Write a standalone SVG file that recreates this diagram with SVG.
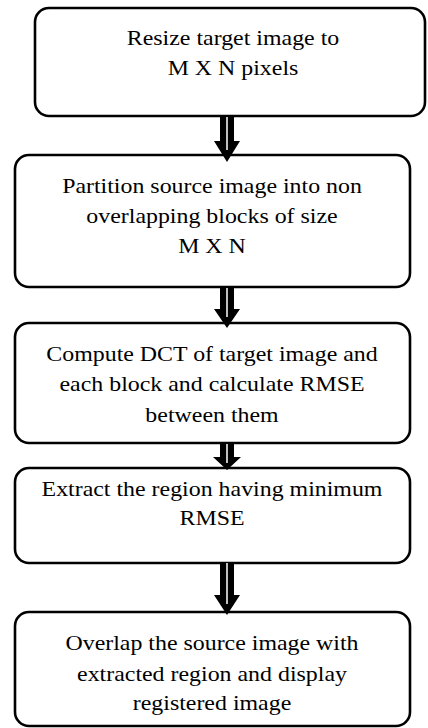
<svg xmlns="http://www.w3.org/2000/svg" width="428" height="728" viewBox="0 0 428 728">
<style>
.box{fill:#fff;stroke:#000;stroke-width:2.6}
.arr{fill:#000}
.gap{stroke:#fff;stroke-width:1.5}
</style>
<rect width="428" height="728" fill="#fff"/>
<g font-family="Liberation Serif, Times New Roman, serif" font-size="22" fill="#000" text-anchor="middle">
<g id="node1">
<rect class="box" x="35" y="8" width="390" height="108" rx="14"/>
<text transform="translate(233,45) scale(1.086,1)">Resize target image to</text>
<text transform="translate(233,75) scale(1.086,1)">M X N pixels</text>
</g>
<g id="node2">
<rect class="box" x="15" y="155" width="395" height="132" rx="14"/>
<text transform="translate(212,193) scale(1.086,1)">Partition source image into non</text>
<text transform="translate(212,223) scale(1.086,1)">overlapping blocks of size</text>
<text transform="translate(212,253) scale(1.086,1)">M X N</text>
</g>
<g id="node3">
<rect class="box" x="15" y="323" width="395" height="120" rx="14"/>
<text transform="translate(212,361) scale(1.086,1)">Compute DCT of target image and</text>
<text transform="translate(212,391) scale(1.086,1)">each block and calculate RMSE</text>
<text transform="translate(212,421.5) scale(1.086,1)">between them</text>
</g>
<g id="node4">
<rect class="box" x="15" y="468" width="395" height="95" rx="14"/>
<text transform="translate(212,496) scale(1.086,1)">Extract the region having minimum</text>
<text transform="translate(212,525) scale(1.086,1)">RMSE</text>
</g>
<g id="node5">
<rect class="box" x="15" y="612" width="395" height="114" rx="14"/>
<text transform="translate(212,650) scale(1.086,1)">Overlap the source image with</text>
<text transform="translate(212,680.5) scale(1.086,1)">extracted region and display</text>
<text transform="translate(212,710) scale(1.086,1)">registered image</text>
</g>
</g>
<g id="connectors">
<polygon class="arr" points="220,116 234,116 234,141 240,141 227,162 214,141 220,141"/>
<line class="gap" x1="227" y1="117" x2="227" y2="150"/>
<polygon class="arr" points="220,287 234,287 234,309 240,309 227,328 214,309 220,309"/>
<line class="gap" x1="227" y1="288" x2="227" y2="317"/>
<polygon class="arr" points="220,443 234,443 234,457 241,457 227,470 213,457 220,457"/>
<line class="gap" x1="227" y1="444" x2="227" y2="463"/>
<polygon class="arr" points="220,562 234,562 234,595 240,595 227,615 214,595 220,595"/>
<line class="gap" x1="227" y1="563" x2="227" y2="604"/>
</g>
</svg>
